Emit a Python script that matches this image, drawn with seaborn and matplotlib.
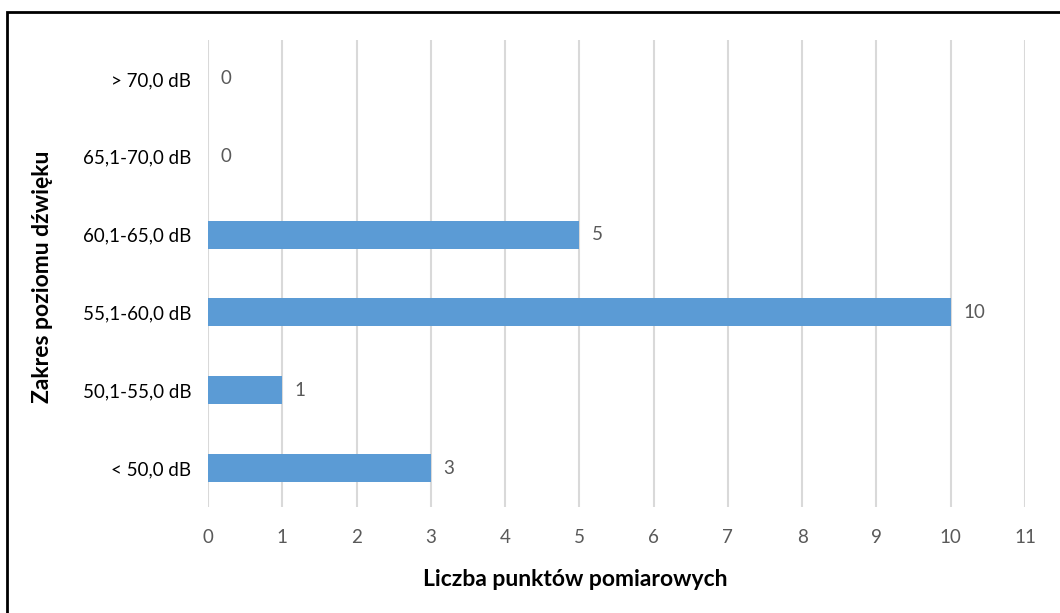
import matplotlib
matplotlib.use("Agg")
import matplotlib.pyplot as plt
import seaborn as sns
import pandas as pd
from matplotlib.patches import Rectangle

categories = ["> 70,0 dB", "65,1-70,0 dB", "60,1-65,0 dB", "55,1-60,0 dB", "50,1-55,0 dB", "< 50,0 dB"]
values = [0, 0, 5, 10, 1, 3]
xticks = list(range(0, 12))

sns.set_theme(style="white")
plt.rcParams['font.family'] = ['Lato', 'DejaVu Sans']

df = pd.DataFrame({"cat": categories, "val": values})

W, H = 1060, 613
L, R, T, B = 208, 1025, 40, 507
fig = plt.figure(figsize=(W/100, H/100), dpi=100)
ax = fig.add_axes([L/W, 1-B/H, (R-L)/W, (B-T)/H])
sns.barplot(data=df, x="val", y="cat", order=categories, color="#5B9BD5",
            width=0.36, saturation=1, linewidth=0, ax=ax, zorder=3)

ax.set_xlim(0, 11)
ax.set_ylim(5.5, -0.5)
ax.set_xticks(xticks)
ax.set_xticklabels([str(t) for t in xticks], color="#595959", fontsize=13.5)
ax.tick_params(axis='x', pad=16, length=0)
ax.tick_params(axis='y', pad=12, length=0, labelsize=13.5, labelcolor="#000000")
ax.grid(axis='x', color="#D9D9D9", linewidth=1.5, zorder=0)
ax.grid(axis='y', visible=False)
for s in ax.spines.values():
    s.set_visible(False)

for i, v in enumerate(values):
    ax.text(v + 0.17, i, str(v), va='center', ha='left', color="#595959", fontsize=13.5)

ax.set_xlabel("Liczba punktów pomiarowych", fontsize=16.5, fontweight='bold', color="#000000")
ax.set_ylabel("Zakres poziomu dźwięku", fontsize=16.5, fontweight='bold', color="#000000")
ax.xaxis.set_label_coords((575-L)/(R-L), (B-579)/(B-T))
ax.xaxis.label.set_va('center')
ax.yaxis.set_label_coords((43-L)/(R-L), (B-277)/(B-T))
ax.yaxis.label.set_va('center')
ax.yaxis.label.set_ha('center')

fig.patches.append(Rectangle((7/W, -0.1), 1.2, 1-12/H+0.1, transform=fig.transFigure,
                             fill=False, edgecolor="black", linewidth=2, zorder=10))

fig.savefig("out.png", dpi=100)
